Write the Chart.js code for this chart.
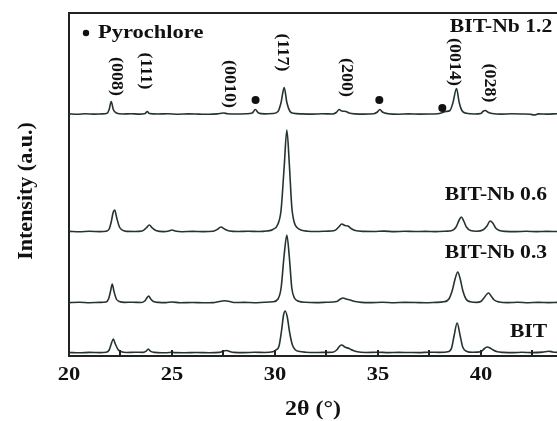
<!DOCTYPE html>
<html>
<head>
<meta charset="utf-8">
<script src="https://cdn.jsdelivr.net/npm/chart.js@4.4.1/dist/chart.umd.min.js"></script>
<style>
  html, body { margin: 0; padding: 0; background: #fff; }
  #wrap { width: 557px; height: 421px; }
</style>
</head>
<body>
<div id="wrap"><canvas id="xrd" width="557" height="421"></canvas></div>
<script>
// XRD patterns, [2theta, intensity above own baseline]
var traceBIT = [[20.0,0.5],[20.5,0.2],[21.0,0.6],[21.5,0.4],[21.8,0.8],[21.95,3],[22.05,9],[22.15,14],[22.25,9],[22.38,3.5],[22.55,1.2],[22.8,0.5],[23.2,0.8],[23.6,0.6],[23.75,1.8],[23.85,4],[23.95,1.8],[24.15,0.6],[24.5,0.3],[24.9,0.5],[25.0,1.2],[25.1,0.4],[25.6,0.3],[26.2,0.5],[26.8,0.2],[27.3,0.6],[27.5,2],[27.65,2.5],[27.8,1.5],[28.0,0.6],[28.5,0.4],[29.0,0.7],[29.5,0.5],[29.9,1.2],[30.05,3],[30.2,7],[30.32,22],[30.42,38],[30.5,42],[30.6,36],[30.72,20],[30.85,8],[31.0,3],[31.2,1.5],[31.5,0.8],[31.9,0.5],[32.3,0.6],[32.8,0.8],[33.0,3],[33.15,7],[33.25,8],[33.4,6],[33.6,4.5],[33.8,2.5],[34.0,1.2],[34.4,0.5],[35.0,0.8],[35.5,0.4],[36.0,0.6],[36.5,0.5],[37.0,0.4],[37.5,0.8],[38.0,0.6],[38.4,1.2],[38.58,5],[38.7,17],[38.85,30],[39.0,17],[39.12,6],[39.3,1.8],[39.6,0.7],[40.0,1.2],[40.15,4],[40.3,6],[40.45,5],[40.6,3],[40.8,1.2],[41.1,0.6],[41.6,0.4],[42.0,0.7],[42.5,0.4],[43.0,0.9],[43.3,1.8],[43.5,1],[43.7,0.6]];

var traceNb03 = [[20.0,0.4],[20.5,0.7],[21.0,0.3],[21.5,0.6],[21.8,1],[21.92,4],[22.02,12],[22.1,19],[22.18,12],[22.3,4],[22.45,1.5],[22.7,0.6],[23.1,0.8],[23.5,0.5],[23.68,2],[23.78,5],[23.87,7],[23.97,4],[24.1,1.5],[24.35,0.6],[24.7,0.4],[25.0,1],[25.4,0.3],[26.0,0.5],[26.5,0.2],[27.0,0.4],[27.3,1.5],[27.55,2.2],[27.75,1.8],[28.0,0.5],[28.5,0.6],[29.0,0.3],[29.5,0.7],[29.9,1.2],[30.15,4],[30.3,15],[30.45,48],[30.58,68],[30.7,46],[30.82,15],[30.95,5],[31.15,1.8],[31.5,0.7],[32.0,0.4],[32.5,0.7],[33.0,1.5],[33.15,3.5],[33.3,5],[33.45,4],[33.65,3],[33.9,1.5],[34.2,0.6],[34.7,0.4],[35.2,0.7],[35.8,0.3],[36.3,0.6],[36.8,0.5],[37.3,0.3],[37.8,0.6],[38.2,1.2],[38.45,4],[38.62,13],[38.75,24],[38.88,31],[39.0,24],[39.13,12],[39.28,4],[39.5,1.2],[39.8,0.6],[40.0,1.5],[40.15,5],[40.3,9],[40.38,10],[40.5,7],[40.65,3],[40.9,1],[41.3,0.4],[41.8,0.7],[42.3,0.3],[42.8,0.6],[43.3,0.4],[43.7,0.6]];

var traceNb06 = [[20.0,0.6],[20.5,0.3],[21.0,0.7],[21.5,0.4],[21.8,0.8],[21.95,3],[22.05,10],[22.15,20],[22.22,22],[22.32,14],[22.45,5],[22.6,1.8],[22.8,0.6],[23.2,0.5],[23.55,1],[23.75,4],[23.9,7],[24.05,4],[24.25,1.2],[24.6,0.4],[24.85,1],[25.0,2],[25.15,1],[25.5,0.3],[26.0,0.6],[26.5,0.4],[27.0,0.8],[27.2,2.5],[27.38,5],[27.55,3],[27.8,1],[28.2,0.5],[28.7,0.8],[29.2,0.5],[29.6,1],[29.9,2.5],[30.15,8],[30.3,22],[30.45,65],[30.58,102],[30.7,68],[30.82,25],[30.95,9],[31.1,4],[31.3,1.8],[31.6,0.8],[32.0,0.5],[32.5,0.8],[32.9,1.5],[33.1,5],[33.25,8],[33.4,6.5],[33.55,6],[33.7,3.5],[33.9,1.5],[34.3,0.6],[34.8,0.5],[35.3,0.9],[35.8,0.4],[36.3,0.7],[36.8,0.5],[37.3,0.6],[37.8,0.4],[38.3,0.8],[38.6,1.5],[38.8,5],[38.95,12],[39.05,15],[39.17,11],[39.3,5],[39.5,1.5],[39.8,0.8],[40.1,2],[40.3,6],[40.45,11],[40.58,9],[40.72,4],[40.9,1.5],[41.2,0.6],[41.7,0.4],[42.2,0.7],[42.7,0.4],[43.2,0.6],[43.7,0.5]];

var traceNb12 = [[20.0,0.6],[20.4,0.2],[20.8,0.7],[21.2,0.4],[21.6,0.6],[21.85,1.2],[21.95,5],[22.05,13],[22.15,5],[22.3,1.5],[22.6,0.5],[23.0,0.8],[23.4,0.4],[23.7,1],[23.8,3],[23.9,1],[24.3,0.5],[24.8,0.7],[25.3,0.3],[25.8,0.6],[26.3,0.4],[26.8,0.2],[27.2,0.6],[27.5,1.5],[27.7,0.8],[28.1,0.5],[28.6,0.7],[28.9,1.5],[29.05,5],[29.2,1.5],[29.5,0.6],[29.9,1],[30.15,3],[30.3,12],[30.45,27],[30.58,12],[30.72,3.5],[30.9,1.2],[31.3,0.6],[31.8,0.4],[32.3,0.7],[32.8,0.5],[32.98,2],[33.12,5],[33.25,3.5],[33.45,3],[33.6,1.5],[33.9,0.6],[34.3,0.4],[34.8,0.8],[34.98,2.5],[35.1,5],[35.22,2.5],[35.5,0.8],[36.0,0.3],[36.5,0.6],[37.0,0.4],[37.5,0.5],[37.9,0.8],[38.15,2],[38.3,3],[38.5,4],[38.65,12],[38.82,26],[38.95,12],[39.08,4],[39.3,1.2],[39.7,0.5],[40.0,1],[40.1,3],[40.22,4],[40.35,2.2],[40.55,1],[41.0,0.4],[41.5,0.7],[42.0,0.5],[42.4,0.2],[42.6,-0.5],[42.8,0.6],[43.2,0.4],[43.7,0.7]];

var sampleNames = ["BIT", "BIT-Nb 0.3", "BIT-Nb 0.6", "BIT-Nb 1.2"];
var offsets = [3, 53, 124, 241.5];          // vertical stacking offsets (a.u.)
var nameX = [43.22, 43.22, 43.22, 43.47];   // 2theta of right end of each sample label
var nameY = [24, 103, 161, 329];

// Miller index labels: text, 2theta, height
var hklText = ["(008)", "(111)", "(0010)", "(117)", "(200)", "(0014)", "(028)"];
var hklX = [22.31, 23.71, 27.79, 30.36, 33.47, 38.71, 40.41];
var hklY = [279.5, 285, 272, 303.5, 278.5, 294, 273];

// pyrochlore markers
var pyroX = [29.06, 35.07, 38.13];
var pyroY = [256, 256, 248];

var xTicks = [20, 22.5, 25, 27.5, 30, 32.5, 35, 37.5, 40, 42.5];
var xLabels = ["20", "", "25", "", "30", "", "35", "", "40", ""];

var lineColor = "#263333";
var serif = "'Liberation Serif', 'DejaVu Serif', serif";

function stext(ctx, str, x, y, align, sx) {
  ctx.save();
  ctx.translate(x, y);
  ctx.scale(sx, 1);
  ctx.textAlign = align;
  ctx.fillText(str, 0, 0);
  ctx.restore();
}

var decor = {
  id: "decor",
  afterDraw: function(chart) {
    var ctx = chart.ctx, a = chart.chartArea;
    var xs = chart.scales.x, ys = chart.scales.y;
    ctx.save();
    // top frame line
    ctx.strokeStyle = "#222";
    ctx.lineWidth = 2;
    ctx.beginPath();
    ctx.moveTo(a.left - 1, a.top);
    ctx.lineTo(a.right, a.top);
    ctx.stroke();
    // inward ticks + labels
    ctx.fillStyle = "#111";
    ctx.textBaseline = "alphabetic";
    ctx.font = "bold 18px " + serif;
    for (var i = 0; i < xTicks.length; i++) {
      var px = Math.round(xs.getPixelForValue(xTicks[i]));
      ctx.beginPath();
      ctx.moveTo(px, a.bottom);
      ctx.lineTo(px, a.bottom - 6);
      ctx.stroke();
      if (xLabels[i]) stext(ctx, xLabels[i], px, a.bottom + 24, "center", 1.25);
    }
    // axis titles
    ctx.font = "bold 20px " + serif;
    stext(ctx, "2\u03b8 (\u00b0)", (a.left + a.right) / 2, 415, "center", 1.2);
    ctx.save();
    ctx.translate(32, 191);
    ctx.rotate(-Math.PI / 2);
    ctx.font = "bold 22px " + serif;
    ctx.textAlign = "center";
    ctx.fillText("Intensity (a.u.)", 0, 0);
    ctx.restore();
    // hkl labels
    ctx.font = "bold 16px " + serif;
    ctx.textBaseline = "middle";
    for (var k = 0; k < hklText.length; k++) {
      ctx.save();
      ctx.translate(xs.getPixelForValue(hklX[k]), ys.getPixelForValue(hklY[k]));
      ctx.rotate(Math.PI / 2);
      ctx.scale(1.12, 1.1);
      ctx.textAlign = "center";
      ctx.fillText(hklText[k], 0, 0);
      ctx.restore();
    }
    // pyrochlore dots
    for (var d = 0; d < pyroX.length; d++) {
      ctx.beginPath();
      ctx.arc(xs.getPixelForValue(pyroX[d]), ys.getPixelForValue(pyroY[d]), 4, 0, Math.PI * 2);
      ctx.fill();
    }
    // legend
    ctx.beginPath();
    ctx.arc(a.left + 17, a.top + 20, 3.2, 0, Math.PI * 2);
    ctx.fill();
    ctx.font = "bold 18px " + serif;
    ctx.textBaseline = "middle";
    stext(ctx, "Pyrochlore", a.left + 29, a.top + 20, "left", 1.25);
    // sample names
    for (var s = 0; s < sampleNames.length; s++) {
      stext(ctx, sampleNames[s], xs.getPixelForValue(nameX[s]), ys.getPixelForValue(nameY[s]), "right", 1.2);
    }
    ctx.restore();
  }
};

var traces = [traceBIT, traceNb03, traceNb06, traceNb12];
var datasets = traces.map(function(t, i) {
  return {
    label: sampleNames[i],
    data: t.map(function(p) { return { x: p[0], y: p[1] + offsets[i] }; }),
    borderColor: lineColor,
    borderWidth: 1.6,
    pointRadius: 0,
    fill: false,
    cubicInterpolationMode: "monotone"
  };
});

new Chart(document.getElementById("xrd"), {
  type: "line",
  data: { datasets: datasets },
  options: {
    responsive: false,
    animation: false,
    layout: { padding: { top: 13, right: 0, left: 0, bottom: 0 } },
    plugins: { legend: { display: false }, tooltip: { enabled: false } },
    scales: {
      x: {
        type: "linear",
        min: 20,
        max: 43.7,
        grid: { display: false, drawTicks: false },
        border: { display: true, color: "#222", width: 2 },
        ticks: { display: false },
        afterFit: function(s) { s.height = 65; }
      },
      y: {
        min: 0,
        max: 343,
        grid: { display: false, drawTicks: false },
        border: { display: true, color: "#222", width: 2 },
        ticks: { display: false },
        afterFit: function(s) { s.width = 69; }
      }
    }
  },
  plugins: [decor]
});
</script>
</body>
</html>
